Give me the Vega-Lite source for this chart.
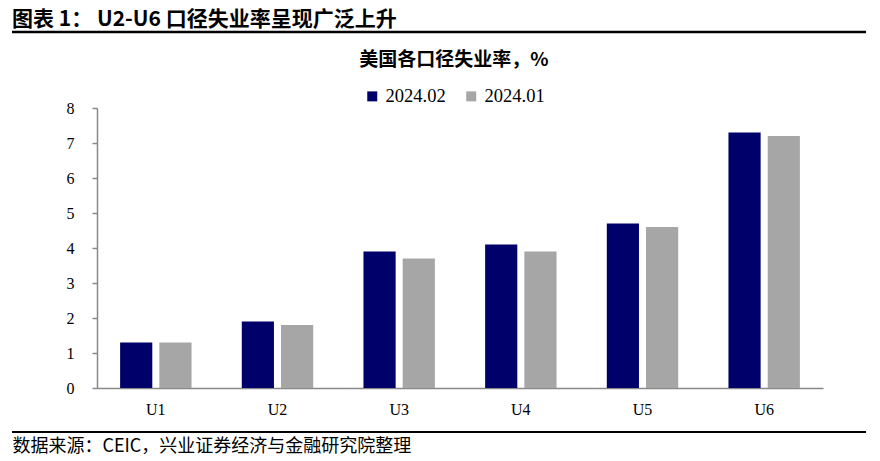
{
  "$schema": "https://vega.github.io/schema/vega-lite/v6.json",
  "autosize": {"type": "none"},
  "width": 726,
  "height": 280,
  "padding": {"left": 97, "top": 108, "right": 57, "bottom": 73},
  "background": "white",
  "config": {"view": {"stroke": null}},
  "title": {
    "text": "图表 1： U2-U6 口径失业率呈现广泛上升",
    "anchor": "start",
    "frame": "group",
    "orient": "top",
    "dx": -85,
    "offset": -16,
    "baseline": "alphabetic",
    "font": "Noto Sans CJK SC",
    "fontSize": 21,
    "fontWeight": "bold",
    "color": "#000000"
  },
  "datasets": {
    "bars": [
      {"cat": "U1", "series": "2024.02", "value": 1.3},
      {"cat": "U1", "series": "2024.01", "value": 1.3},
      {"cat": "U2", "series": "2024.02", "value": 1.9},
      {"cat": "U2", "series": "2024.01", "value": 1.8},
      {"cat": "U3", "series": "2024.02", "value": 3.9},
      {"cat": "U3", "series": "2024.01", "value": 3.7},
      {"cat": "U4", "series": "2024.02", "value": 4.1},
      {"cat": "U4", "series": "2024.01", "value": 3.9},
      {"cat": "U5", "series": "2024.02", "value": 4.7},
      {"cat": "U5", "series": "2024.01", "value": 4.6},
      {"cat": "U6", "series": "2024.02", "value": 7.3},
      {"cat": "U6", "series": "2024.01", "value": 7.2}
    ],
    "lines": [
      {"pos": 10.171, "w": 2.5},
      {"pos": -1.257, "w": 2}
    ]
  },
  "layer": [
    {
      "data": {"name": "bars"},
      "mark": {"type": "bar"},
      "encoding": {
        "x": {
          "field": "cat",
          "type": "nominal",
          "sort": null,
          "scale": {"paddingInner": 0.413, "paddingOuter": 0.19},
          "axis": {
            "title": "数据来源：CEIC，兴业证券经济与金融研究院整理",
            "titleFont": "Noto Sans CJK SC",
            "titleFontSize": 18,
            "titleFontWeight": "normal",
            "titleColor": "#000000",
            "titleAnchor": "start",
            "titleAlign": "left",
            "titleBaseline": "alphabetic",
            "titleX": -85,
            "titleY": 63,
            "labelAngle": 0,
            "labelFont": "Liberation Serif",
            "labelFontSize": 16,
            "labelColor": "#000000",
            "labelPadding": 13,
            "ticks": false,
            "domainColor": "#898989",
            "domainWidth": 1.5
          }
        },
        "xOffset": {
          "field": "series",
          "type": "nominal",
          "sort": ["2024.02", "2024.01"],
          "scale": {"paddingInner": 0.18, "paddingOuter": 0}
        },
        "y": {
          "field": "value",
          "type": "quantitative",
          "scale": {"domain": [0, 8], "nice": false, "zero": true},
          "axis": {
            "title": null,
            "values": [0, 1, 2, 3, 4, 5, 6, 7, 8],
            "tickCount": 20,
            "format": "d",
            "labelOverlap": false,
            "grid": false,
            "labelFont": "Liberation Serif",
            "labelFontSize": 16,
            "labelColor": "#000000",
            "labelPadding": 18,
            "tickSize": 5,
            "tickColor": "#898989",
            "domainColor": "#898989",
            "domainWidth": 1.5,
            "tickWidth": 1.5
          }
        },
        "color": {
          "field": "series",
          "type": "nominal",
          "sort": ["2024.02", "2024.01"],
          "scale": {"domain": ["2024.02", "2024.01"], "range": ["#00006A", "#A6A6A6"]},
          "legend": {
            "title": "美国各口径失业率，%",
            "orient": "none",
            "legendX": 262,
            "legendY": -57,
            "direction": "horizontal",
            "titleAnchor": "middle",
            "titleFont": "Noto Sans CJK SC",
            "titleFontSize": 19,
            "titleFontWeight": "bold",
            "titleColor": "#000000",
            "titlePadding": 17,
            "titleLimit": 400,
            "symbolType": "square",
            "symbolSize": 100,
            "symbolStrokeWidth": 0,
            "labelFont": "Liberation Serif",
            "labelFontSize": 18.5,
            "labelColor": "#000000",
            "labelOffset": 4,
            "columnPadding": 16
          }
        }
      }
    },
    {
      "data": {"name": "lines"},
      "mark": {"type": "rule", "color": "#000000", "clip": false},
      "encoding": {
        "y": {
          "field": "pos",
          "type": "quantitative",
          "axis": {
            "title": null,
            "values": [0, 1, 2, 3, 4, 5, 6, 7, 8],
            "tickCount": 20,
            "format": "d",
            "labelOverlap": false,
            "grid": false,
            "labelFont": "Liberation Serif",
            "labelFontSize": 16,
            "labelColor": "#000000",
            "labelPadding": 18,
            "tickSize": 5,
            "tickColor": "#898989",
            "domainColor": "#898989",
            "domainWidth": 1.5,
            "tickWidth": 1.5
          }
        },
        "x": {"value": -85},
        "x2": {"value": 769},
        "strokeWidth": {"field": "w", "type": "quantitative", "scale": null, "legend": null}
      }
    }
  ]
}
